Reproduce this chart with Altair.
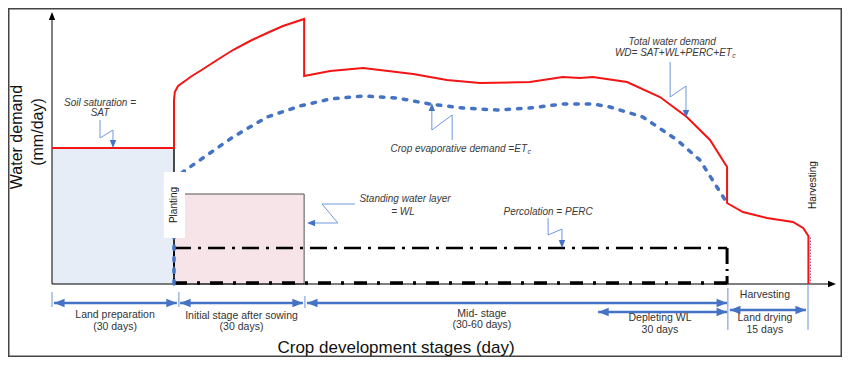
import altair as alt
import pandas as pd

# ---------------- data (x in days, y in mm/day, schematic units) ----------------
X_DOMAIN = [-10.82, 194.26]
Y_DOMAIN = [-7.3, 27.6]
W, H = 834, 349

# stage boundaries (days): start, planting, end initial, end mid (WL gone), harvest
stage_bounds = [0, 30, 62, 166, 186]
sat_level = 13.6
wl_level = 9.0
perc_level = 3.6

# Total water demand WD (red)
wd_day = [0, 30, 30, 30.2, 31.0, 32.7, 34.4, 36.4, 40.6, 44.5, 48.7, 52.9, 56.8, 62, 62,
          68.4, 76.5, 88.8, 97.1, 105.2, 117.5, 125.6, 129.8, 133.0, 141.4, 149.5, 156.1,
          161.8, 166, 166, 169.9, 175.8, 182.2, 184.7, 186, 186]
wd_val = [13.6, 13.6, 18.4, 19.2, 19.8, 20.3, 20.8, 21.3, 22.4, 23.4, 24.3, 25.1, 25.8, 26.5, 20.8,
          21.3, 21.6, 21.0, 20.4, 20.1, 20.2, 20.7, 20.6, 20.7, 20.2, 18.7, 16.7,
          14.4, 11.7, 8.1, 7.2, 6.6, 6.2, 5.6, 4.8, 0]

# Crop evaporative demand ETc (blue dotted)
etc_day = [30, 30, 30.5, 32.2, 36.4, 44.5, 52.9, 61.0, 68.4, 76.5, 84.8, 92.9, 101.1, 109.4,
           117.5, 125.6, 133.0, 137.2, 145.3, 153.7, 159.3, 163.5, 166]
etc_val = [0, 10.6, 10.7, 11.2, 12.4, 14.7, 16.7, 17.8, 18.5, 18.8, 18.6, 18.0, 17.6, 17.4,
           17.6, 18.0, 18.0, 17.7, 16.7, 14.4, 12.4, 9.7, 8.1]

# stage arrows below the axis
arrow_start = [0.5, 31.5, 62.7, 134.3, 166.7]
arrow_end = [30.7, 61.7, 166.0, 166.0, 185.4]
arrow_y = [-1.9, -1.9, -1.9, -2.8, -2.6]
tick_x = [0, 31.2, 62.2, 166.2, 185.9]
tick_top = [-0.8, -0.8, -1.2, -0.4, 0]
tick_bot = [-2.3, -2.3, -2.4, -4.6, -4.6]

# zig-zag annotation pointers
zig_names = ["SAT", "ETc", "WD", "WL", "PERC"]
zig_x = [[11.8, 11.8, 15.0, 15.0], [98.4, 98.4, 93.4, 93.4], [152.0, 152.0, 155.9, 155.9],
         [74.5, 66.4, 70.3, 64.0], [122.0, 122.0, 125.4, 125.4]]
zig_y = [[16.4, 14.6, 15.4, 14.1], [14.4, 16.9, 15.4, 17.4], [22.2, 18.7, 19.8, 17.1],
         [8.0, 8.0, 6.1, 6.1], [6.6, 4.9, 5.5, 4.1]]
zig_head_x = [15.0, 93.4, 155.9, 63.7, 125.4]
zig_head_y = [14.0, 17.7, 17.0, 6.1, 4.0]
zig_head_dir = ["down", "up", "down", "left", "down"]

# texts
ann_text = ["Soil saturation =", "SAT", "Total water demand", "Standing water layer", "= WL",
            "Percolation = PERC"]
ann_x = [11.8, 11.8, 152.5, 86.8, 86.3, 122.0]
ann_y = [18.1, 17.1, 24.2, 8.5, 7.2, 7.2]
annr_text = ["Crop evaporative demand =ET", "WD= SAT+WL+PERC+ET"]
annr_x = [116.8, 167.2]
annr_y = [13.5, 23.1]
sub_text = ["c", "c"]
sub_x = [116.9, 167.3]
sub_y = [13.2, 22.8]

lab_text = ["Land preparation", "(30 days)", "Initial stage after sowing", "(30 days)",
            "Mid- stage", "(30-60 days)", "Depleting WL", "30 days", "Harvesting",
            "Land drying", "15 days"]
lab_x = [15.5, 15.5, 46.6, 46.6, 105.7, 105.7, 149.5, 149.5, 175.3, 175.3, 175.3]
lab_y = [-3.1, -4.3, -3.2, -4.3, -3.0, -4.1, -3.4, -4.6, -1.1, -3.4, -4.6]

vert_text = ["Planting", "Harvesting"]
vert_x = [30, 187.1]
vert_y = [7.9, 9.9]

title_y_text = ["Water demand", "(mm/day)"]
title_y_x = [-8.6, -3.4]
title_y_y = [14.7, 15.2]
title_x_text = ["Crop development stages (day)"]
title_x_x = [84.6]
title_x_y = [-6.4]

# ---------------- helpers ----------------
FONT = "Liberation Sans"
BLUE = "#4472c4"
RED = "#f41414"
XS = alt.Scale(domain=X_DOMAIN, nice=False, zero=False)
YS = alt.Scale(domain=Y_DOMAIN, nice=False, zero=False)


def X(f):
    return alt.X(f, type="quantitative", scale=XS, axis=None)


def Y(f):
    return alt.Y(f, type="quantitative", scale=YS, axis=None)


HEAD_PATHS = {
    "down": "M-0.8,-1L0.8,-1L0,1Z",
    "up": "M-0.8,1L0.8,1L0,-1Z",
    "left": "M1,-0.8L1,0.8L-1,0Z",
    "right": "M-1,-0.8L-1,0.8L1,0Z",
}

layers = []

# background areas
sat_df = pd.DataFrame({"x": [stage_bounds[0]], "x2": [stage_bounds[1]], "y": [0], "y2": [sat_level]})
layers.append(alt.Chart(sat_df).mark_rect(color="#e6edf7").encode(X("x"), x2="x2", y=Y("y"), y2="y2"))
wl_df = pd.DataFrame({"x": [stage_bounds[1]], "x2": [stage_bounds[2]], "y": [0], "y2": [wl_level]})
layers.append(alt.Chart(wl_df).mark_rect(color="#f6e4e8", stroke="#555555", strokeWidth=1)
              .encode(X("x"), x2="x2", y=Y("y"), y2="y2"))

# black planting line
pl_df = pd.DataFrame({"x": [stage_bounds[1]], "y": [0], "y2": [sat_level]})
layers.append(alt.Chart(pl_df).mark_rule(color="#111111", strokeWidth=1.5).encode(X("x"), y=Y("y"), y2="y2"))

# percolation dash-dot box
perc_top = pd.DataFrame({"x": [stage_bounds[1]], "x2": [stage_bounds[3]], "y": [perc_level]})
layers.append(alt.Chart(perc_top).mark_rule(color="#000000", strokeWidth=2.5, strokeDash=[17, 7, 3, 7])
              .encode(X("x"), x2="x2", y=Y("y")))
perc_bot = pd.DataFrame({"x": [stage_bounds[1]], "x2": [stage_bounds[3]], "y": [0.1]})
layers.append(alt.Chart(perc_bot).mark_rule(color="#000000", strokeWidth=3.5, strokeDash=[13, 10, 3, 10])
              .encode(X("x"), x2="x2", y=Y("y")))
perc_right = pd.DataFrame({"x": [stage_bounds[3]], "y": [0], "y2": [perc_level]})
layers.append(alt.Chart(perc_right).mark_rule(color="#000000", strokeWidth=3, strokeDash=[16, 5, 2, 5])
              .encode(X("x"), y=Y("y2"), y2="y"))
perc_left = pd.DataFrame({"x": [stage_bounds[1]], "y": [0], "y2": [perc_level]})
layers.append(alt.Chart(perc_left).mark_rule(color="#000000", strokeWidth=2, strokeDash=[6, 3])
              .encode(X("x"), y=Y("y"), y2="y2"))

# axes
yax = pd.DataFrame({"x": [0], "y": [0], "y2": [26.6]})
layers.append(alt.Chart(yax).mark_rule(color="#000000", strokeWidth=1).encode(X("x"), y=Y("y"), y2="y2"))
xax = pd.DataFrame({"x": [0], "x2": [192.0], "y": [0]})
layers.append(alt.Chart(xax).mark_rule(color="#000000", strokeWidth=1).encode(X("x"), x2="x2", y=Y("y")))
axheads = pd.DataFrame({"x": [0, 191.8], "y": [26.8, 0], "shape": [HEAD_PATHS["up"], HEAD_PATHS["right"]]})
layers.append(alt.Chart(axheads).mark_point(filled=True, opacity=1, color="#000000", size=64, strokeWidth=0)
              .encode(X("x"), Y("y"), shape=alt.Shape("shape:N", scale=None)))

# ETc dotted line
etc_df = pd.DataFrame({"x": etc_day, "y": etc_val, "i": range(len(etc_day))})
layers.append(alt.Chart(etc_df).mark_line(color=BLUE, strokeWidth=3.5, strokeDash=[3.5, 8], strokeCap="round")
              .encode(X("x"), Y("y"), order="i:Q"))

# WD red line
wd_df = pd.DataFrame({"x": wd_day, "y": wd_val, "i": range(len(wd_day))})
layers.append(alt.Chart(wd_df).mark_line(color=RED, strokeWidth=2)
              .encode(X("x"), Y("y"), order="i:Q"))
hv_df = pd.DataFrame({"x": [186.5], "y": [0], "y2": [4.7]})
layers.append(alt.Chart(hv_df).mark_rule(color="#b85a9a", strokeWidth=1.2, strokeDash=[1.5, 1.5])
              .encode(X("x"), y=Y("y"), y2="y2"))

# planting white box
pbox = pd.DataFrame({"x": [27.5], "x2": [32.7], "y": [4.6], "y2": [11.2]})
layers.append(alt.Chart(pbox).mark_rect(color="#ffffff").encode(X("x"), x2="x2", y=Y("y"), y2="y2"))

# stage arrows
arr_df = pd.DataFrame({"x": arrow_start, "x2": arrow_end, "y": arrow_y})
layers.append(alt.Chart(arr_df).mark_rule(color=BLUE, strokeWidth=2.5).encode(X("x"), x2="x2", y=Y("y")))
hx, hy, hs = [], [], []
for s, e, yv in zip(arrow_start, arrow_end, arrow_y):
    hx += [s + 1.3, e - 1.3]
    hy += [yv, yv]
    hs += [HEAD_PATHS["left"], HEAD_PATHS["right"]]
heads_df = pd.DataFrame({"x": hx, "y": hy, "shape": hs})
layers.append(alt.Chart(heads_df).mark_point(filled=True, opacity=1, color=BLUE, size=110, strokeWidth=0)
              .encode(X("x"), Y("y"), shape=alt.Shape("shape:N", scale=None)))
tick_df = pd.DataFrame({"x": tick_x, "y": tick_top, "y2": tick_bot})
layers.append(alt.Chart(tick_df).mark_rule(color="#6b93d6", strokeWidth=1).encode(X("x"), y=Y("y"), y2="y2"))

# zig-zag pointers
zrows = []
for n, xs, ys in zip(zig_names, zig_x, zig_y):
    for k, (a, b) in enumerate(zip(xs, ys)):
        zrows.append({"g": n, "x": a, "y": b, "i": k})
zdf = pd.DataFrame(zrows)
layers.append(alt.Chart(zdf).mark_line(color="#6f98dc", strokeWidth=1)
              .encode(X("x"), Y("y"), detail="g:N", order="i:Q"))
zh = pd.DataFrame({"x": zig_head_x, "y": zig_head_y, "shape": [HEAD_PATHS[d] for d in zig_head_dir]})
layers.append(alt.Chart(zh).mark_point(filled=True, opacity=1, color=BLUE, size=64, strokeWidth=0)
              .encode(X("x"), Y("y"), shape=alt.Shape("shape:N", scale=None)))

# texts
def text_layer(txt, xs, ys, **kw):
    df = pd.DataFrame({"t": txt, "x": xs, "y": ys})
    return alt.Chart(df).mark_text(font=FONT, baseline="middle", **kw).encode(X("x"), Y("y"), text="t:N")

layers.append(text_layer(ann_text, ann_x, ann_y, fontSize=10, fontStyle="italic", color="#3a3a3a"))
layers.append(text_layer(annr_text, annr_x, annr_y, fontSize=10, fontStyle="italic", color="#3a3a3a", align="right"))
layers.append(text_layer(sub_text, sub_x, sub_y, fontSize=7, fontStyle="italic", color="#3a3a3a", align="left"))
layers.append(text_layer(lab_text, lab_x, lab_y, fontSize=10.5, color="#333333"))
layers.append(text_layer(vert_text, vert_x, vert_y, fontSize=10, color="#222222", angle=270))
layers.append(text_layer(title_y_text, title_y_x, title_y_y, fontSize=16, color="#111111", angle=270))
layers.append(text_layer(title_x_text, title_x_x, title_x_y, fontSize=17, color="#111111"))

chart = alt.layer(*layers).properties(
    width=W, height=H, padding=0, autosize=alt.AutoSizeParams(type="none")
).configure_view(stroke="#444444", strokeWidth=3)

chart.save("out.html", embed_options={"renderer": "svg", "actions": False})
